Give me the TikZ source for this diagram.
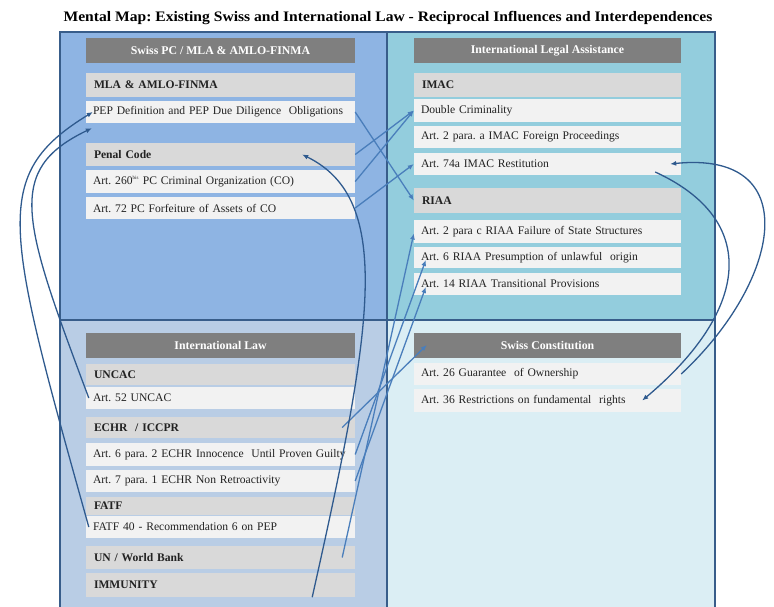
\documentclass[tikz,border=0pt]{standalone}
\usepackage{fontspec}
\setmainfont{Liberation Serif}
\usetikzlibrary{arrows.meta}
\definecolor{tlfill}{HTML}{8EB4E3}
\definecolor{trfill}{HTML}{93CDDD}
\definecolor{blfill}{HTML}{B9CDE5}
\definecolor{brfill}{HTML}{DBEEF4}
\definecolor{hdrgray}{HTML}{7F7F7F}
\definecolor{catgray}{HTML}{D9D9D9}
\definecolor{itmgray}{HTML}{F2F2F2}
\definecolor{framec}{HTML}{385D8A}
\definecolor{arrlight}{HTML}{4A7EBB}
\definecolor{arrdark}{HTML}{2F5A8E}
\definecolor{txt}{HTML}{222222}
\tikzset{
  hdr/.style={fill=hdrgray, text=white, font=\bfseries\fontsize{11.8}{13}\selectfont,
    minimum width=#1, minimum height=25pt, inner sep=0pt},
  cat/.style={fill=catgray, text=txt, font=\bfseries\fontsize{11.6}{13}\selectfont,
    text width=#1, inner xsep=8pt, inner ysep=0pt, align=left},
  itm/.style={fill=itmgray, text=txt, font=\fontsize{11.6}{13}\selectfont,
    text width=#1, inner xsep=7pt, inner ysep=0pt, align=left},
  framel/.style={draw=framec, line width=1.4pt},
  lightarr/.style={draw=arrlight, line width=1.3pt, -{Latex[length=6pt,width=5pt]}},
  darkarr/.style={draw=arrdark, line width=1.3pt, -{Latex[length=6pt,width=5pt]}},
}
\begin{document}
\frenchspacing
\begin{tikzpicture}[x=1pt,y=-1pt]
\useasboundingbox (0,0) rectangle (774,606);
\clip (0,0) rectangle (774,606);
% quadrants
\fill[tlfill] (60,32) rectangle (387,320);
\fill[trfill] (387,32) rectangle (715,320);
\fill[blfill] (60,320) rectangle (387,612);
\fill[brfill] (387,320) rectangle (715,612);
\draw[framel] (60,612) -- (60,32) -- (715,32) -- (715,612);
\draw[framel] (387,32) -- (387,612);
\draw[framel] (60,320) -- (715,320);
% title
\node[font=\bfseries\fontsize{14.5}{16}\selectfont, text=black] (title) at (388,18)
  {\scalebox{1.075}[1]{Mental Map: Existing Swiss and International Law - Reciprocal Influences and Interdependences}};
% top-left
\node[hdr=269pt] (hswiss) at (220.5,50.5) {Swiss PC / MLA \& AMLO-FINMA};
\node[cat=253pt, minimum height=24pt] (mla) at (220.5,85) {MLA \& AMLO-FINMA};
\node[itm=255pt, minimum height=22pt] (pep) at (220.5,112) {PEP Definition and PEP Due Diligence\ \ Obligations};
\node[cat=253pt, minimum height=23pt] (penal) at (220.5,154.5) {Penal Code};
\node[itm=255pt, minimum height=23pt] (a260) at (220.5,181.5) {Art. 260\textsuperscript{\tiny bis} PC Criminal Organization (CO)};
\node[itm=255pt, minimum height=22pt] (a72) at (220.5,208) {Art. 72 PC Forfeiture of Assets of CO};
% top-right
\node[hdr=267pt] (hila) at (547.5,50.5) {International Legal Assistance};
\node[cat=251pt, minimum height=24pt] (imac) at (547.5,85) {IMAC};
\node[itm=253pt, minimum height=23pt] (dbl) at (547.5,110.5) {Double Criminality};
\node[itm=253pt, minimum height=22pt] (a2a) at (547.5,137) {Art. 2 para. a IMAC Foreign Proceedings};
\node[itm=253pt, minimum height=22pt] (a74) at (547.5,164) {Art. 74a IMAC Restitution};
\node[cat=251pt, minimum height=25pt] (riaa) at (547.5,200.5) {RIAA};
\node[itm=253pt, minimum height=23pt] (a2c) at (547.5,231.5) {Art. 2 para c RIAA Failure of State Structures};
\node[itm=253pt, minimum height=21pt] (r6) at (547.5,257.5) {Art. 6 RIAA Presumption of unlawful\ \ origin};
\node[itm=253pt, minimum height=22pt] (r14) at (547.5,284) {Art. 14 RIAA Transitional Provisions};
% bottom-left
\node[hdr=269pt] (hil) at (220.5,345) {International Law};
\node[cat=253pt, minimum height=21pt] (uncac) at (220.5,374.5) {UNCAC};
\node[itm=255pt, minimum height=22pt] (a52) at (220.5,398) {Art. 52 UNCAC};
\node[cat=253pt, minimum height=21pt] (echr) at (220.5,427.5) {ECHR\ \ / ICCPR};
\node[itm=255pt, minimum height=23pt] (e6) at (220.5,454.5) {Art. 6 para. 2 ECHR Innocence\ \ Until Proven Guilty};
\node[itm=255pt, minimum height=22pt] (e7) at (220.5,481) {Art. 7 para. 1 ECHR Non Retroactivity};
\node[cat=253pt, minimum height=18pt] (fatf) at (220.5,506) {FATF};
\node[itm=255pt, minimum height=22pt] (f40) at (220.5,527) {FATF 40 - Recommendation 6 on PEP};
\node[cat=253pt, minimum height=23pt] (unwb) at (220.5,557.5) {UN / World Bank};
\node[cat=253pt, minimum height=24pt] (immu) at (220.5,585) {IMMUNITY};
% bottom-right
\node[hdr=267pt] (hsc) at (547.5,345) {Swiss Constitution};
\node[itm=253pt, minimum height=22pt] (a26) at (547.5,374) {Art. 26 Guarantee\ \ of Ownership};
\node[itm=253pt, minimum height=23pt] (a36) at (547.5,400.5) {Art. 36 Restrictions on fundamental\ \ rights};
% straight connectors
\draw[lightarr] (pep.east) -- (riaa.west);
\draw[lightarr] (penal.east) -- (dbl.west);
\draw[lightarr] (a260.east) -- (dbl.west);
\draw[lightarr] (a72.east) -- (a74.west);
\draw[lightarr] ([xshift=-13pt]echr.east) -- ([xshift=13pt]hsc.west);
\draw[lightarr] (e6.east) -- ([xshift=12pt,yshift=-2.5pt]r6.west);
\draw[lightarr] (e7.east) -- ([xshift=12pt,yshift=-3pt]r14.west);
\draw[lightarr] ([xshift=-13pt]unwb.east) -- ([yshift=-2pt]a2c.west);
% curved connectors
\draw[darkarr] ([xshift=-43pt]immu.south east) .. controls (372,330) and (395,200) .. ([xshift=-53pt]penal.east);
\draw[darkarr] ([xshift=3pt]a52.west) .. controls (22,220) and (5,170) .. ([xshift=6pt,yshift=-5pt]pep.south west);
\draw[darkarr] ([xshift=3pt]f40.west) .. controls (5,227) and (-10,175) .. ([xshift=7pt]pep.west);
\draw[darkarr] ([xshift=-26pt,yshift=-8pt]a74.east) .. controls (760,220) and (750,310) .. ([xshift=-39pt]a36.east);
\draw[darkarr] (a26.east) .. controls (782,280) and (805,150) .. ([xshift=-11pt]a74.east);
\end{tikzpicture}
\end{document}
